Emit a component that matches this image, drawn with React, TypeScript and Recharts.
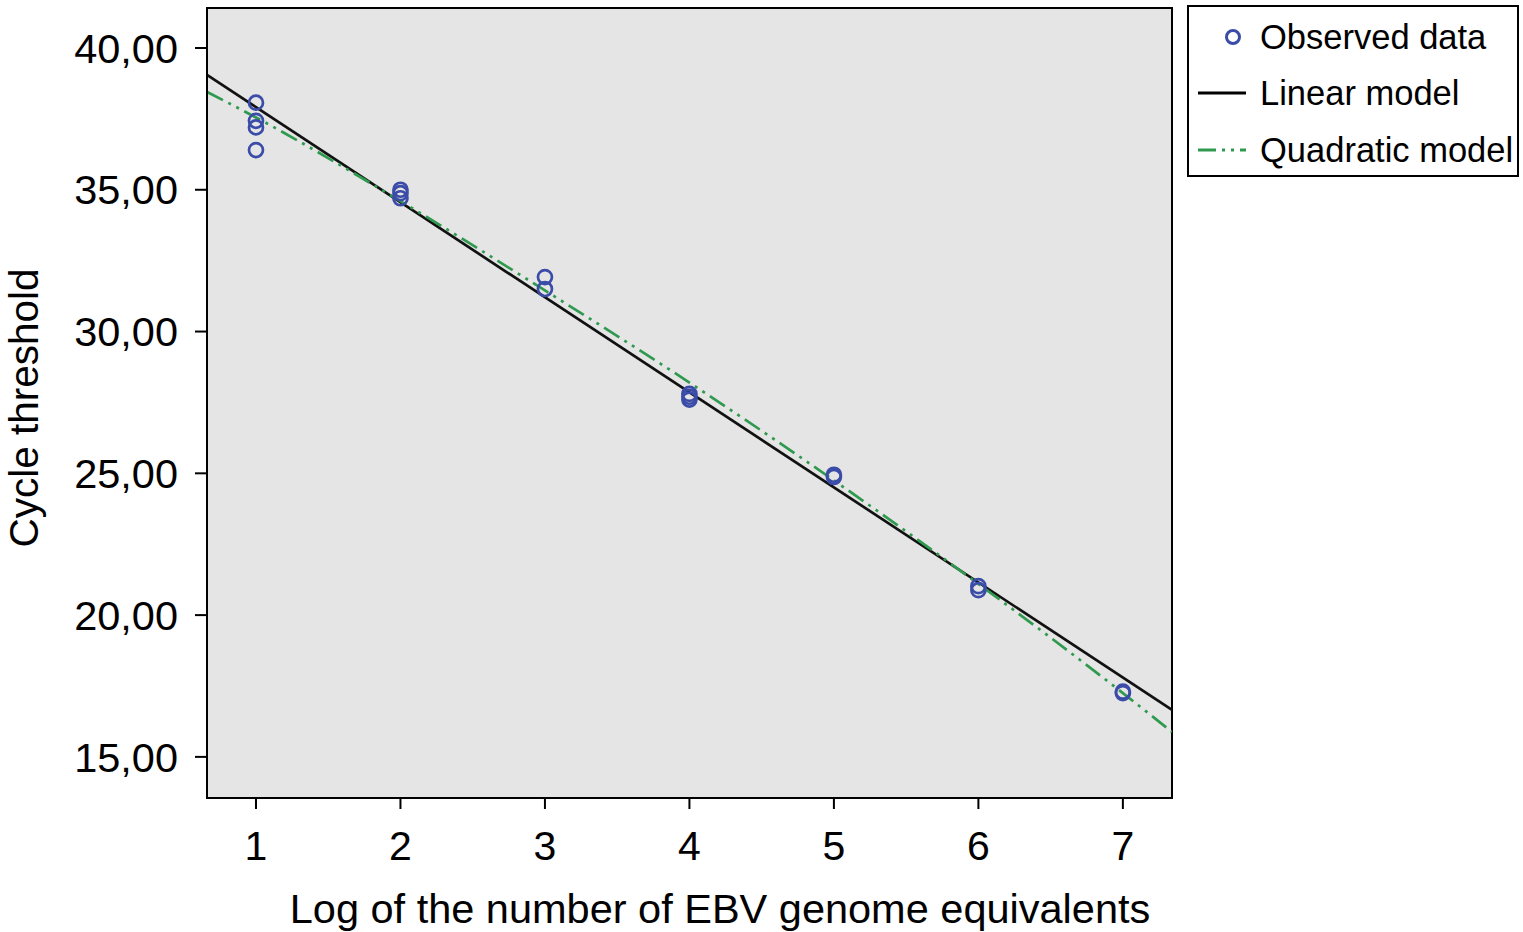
import React from 'react';
import {
  ComposedChart, Scatter, Line, XAxis, YAxis, ReferenceArea, Label,
} from 'recharts';

// Observed data (log EBV genome equivalents, cycle threshold)
const obsX = [1, 1, 1, 1, 2, 2, 2, 3, 3, 4, 4, 4, 5, 5, 6, 6, 7, 7];
const obsY = [38.07, 37.43, 37.2, 36.4, 35.0, 34.88, 34.7, 31.92, 31.5, 27.8, 27.7, 27.6, 24.95, 24.87, 21.02, 20.88, 17.3, 17.25];

// Linear model read at the plot edges
const linX = [0.661, 7.34];
const linY = [39.05, 16.66];

// Quadratic model
const quadX = [0.661, 1, 2, 3, 4, 5, 6, 7, 7.34];
const quadY = [38.45, 37.55, 34.6, 31.45, 28.2, 24.75, 21.1, 17.25, 15.88];

const xTicks = [1, 2, 3, 4, 5, 6, 7];
const yTicks = [15, 20, 25, 30, 35, 40];
const xDomain: [number, number] = [0.661, 7.34];
const yDomain: [number, number] = [13.55, 41.41];

const observed = obsX.map((x, i) => ({ x, y: obsY[i] }));
const linear = linX.map((x, i) => ({ x, y: linY[i] }));
const quadratic = quadX.map((x, i) => ({ x, y: quadY[i] }));

const FONT = '"Liberation Sans", Arial, Helvetica, sans-serif';
const BLUE = '#3b4ca8';
const GREEN = '#2f9a4f';
const DASH = '18 6 3 6 3 6';

const Ring = (props: any) => {
  const { cx, cy } = props;
  if (cx == null || cy == null) return null;
  return <circle cx={cx} cy={cy} r={7} fill="none" stroke={BLUE} strokeWidth={2.7} />;
};

const LegendBox = () => (
  <div
    style={{
      position: 'absolute',
      left: 1187,
      top: 5,
      width: 328,
      height: 168,
      border: '2px solid #000',
      background: '#fff',
      fontFamily: FONT,
    }}
  >
    <svg width={328} height={168} style={{ position: 'absolute', left: 0, top: 0 }}>
      <circle cx={44} cy={30} r={6.5} fill="none" stroke={BLUE} strokeWidth={3} />
      <line x1={9} x2={57} y1={86} y2={86} stroke="#000" strokeWidth={2.8} />
      <line x1={9} x2={57} y1={143} y2={143} stroke={GREEN} strokeWidth={2.8} strokeDasharray="18 6 3 6 3 6" />
      <text x={71} y={30} dy="0.36em" fontSize={34.5} fill="#000" fontFamily={FONT}>Observed data</text>
      <text x={71} y={86} dy="0.36em" fontSize={34.5} fill="#000" fontFamily={FONT}>Linear model</text>
      <text x={71} y={143} dy="0.36em" fontSize={34.5} fill="#000" fontFamily={FONT}>Quadratic model</text>
    </svg>
  </div>
);

export default function App() {
  return (
    <div style={{ position: 'absolute', left: 0, top: 0, width: 1523, height: 932, background: '#fff' }}>
      <ComposedChart
        width={1523}
        height={932}
        margin={{ top: 8, right: 351, bottom: 0, left: 0 }}
      >
        <XAxis
          type="number"
          dataKey="x"
          domain={xDomain}
          ticks={xTicks}
          allowDataOverflow
          height={134}
          tickSize={11}
          tickMargin={22}
          axisLine={{ stroke: '#000', strokeWidth: 2 }}
          tickLine={{ stroke: '#000', strokeWidth: 2 }}
          tick={{ fill: '#000', fontSize: 41, fontFamily: FONT }}
        >
          <Label
            content={() => (
              <text x={720} y={923} textAnchor="middle" fontSize={41.5} fontFamily={FONT} fill="#000">
                Log of the number of EBV genome equivalents
              </text>
            )}
          />
        </XAxis>
        <YAxis
          type="number"
          dataKey="y"
          domain={yDomain}
          ticks={yTicks}
          allowDataOverflow
          width={207}
          tickSize={12}
          tickMargin={17}
          tickFormatter={(v: number) => v.toFixed(2).replace('.', ',')}
          axisLine={{ stroke: '#000', strokeWidth: 2 }}
          tickLine={{ stroke: '#000', strokeWidth: 2 }}
          tick={{ fill: '#000', fontSize: 41.5, fontFamily: FONT }}
        >
          <Label
            content={() => (
              <text
                x={38}
                y={408}
                textAnchor="middle"
                fontSize={40.5}
                fontFamily={FONT}
                fill="#000"
                transform="rotate(-90 38 408)"
              >
                Cycle threshold
              </text>
            )}
          />
        </YAxis>
        <ReferenceArea
          x1={xDomain[0]}
          x2={xDomain[1]}
          y1={yDomain[0]}
          y2={yDomain[1]}
          fill="#e5e5e5"
          fillOpacity={1}
          stroke="#000"
          strokeWidth={2}
          ifOverflow="visible"
        />
        <Line
          data={linear}
          dataKey="y"
          type="linear"
          stroke="#111"
          strokeWidth={2.7}
          dot={false}
          activeDot={false}
          isAnimationActive={false}
          legendType="none"
        />
        <Line
          data={quadratic}
          dataKey="y"
          type="monotone"
          stroke={GREEN}
          strokeWidth={2.7}
          strokeDasharray={DASH}
          dot={false}
          activeDot={false}
          isAnimationActive={false}
          legendType="none"
        />
        <Scatter
          data={observed}
          dataKey="y"
          shape={Ring}
          isAnimationActive={false}
          legendType="none"
        />
      </ComposedChart>
      <LegendBox />
    </div>
  );
}
